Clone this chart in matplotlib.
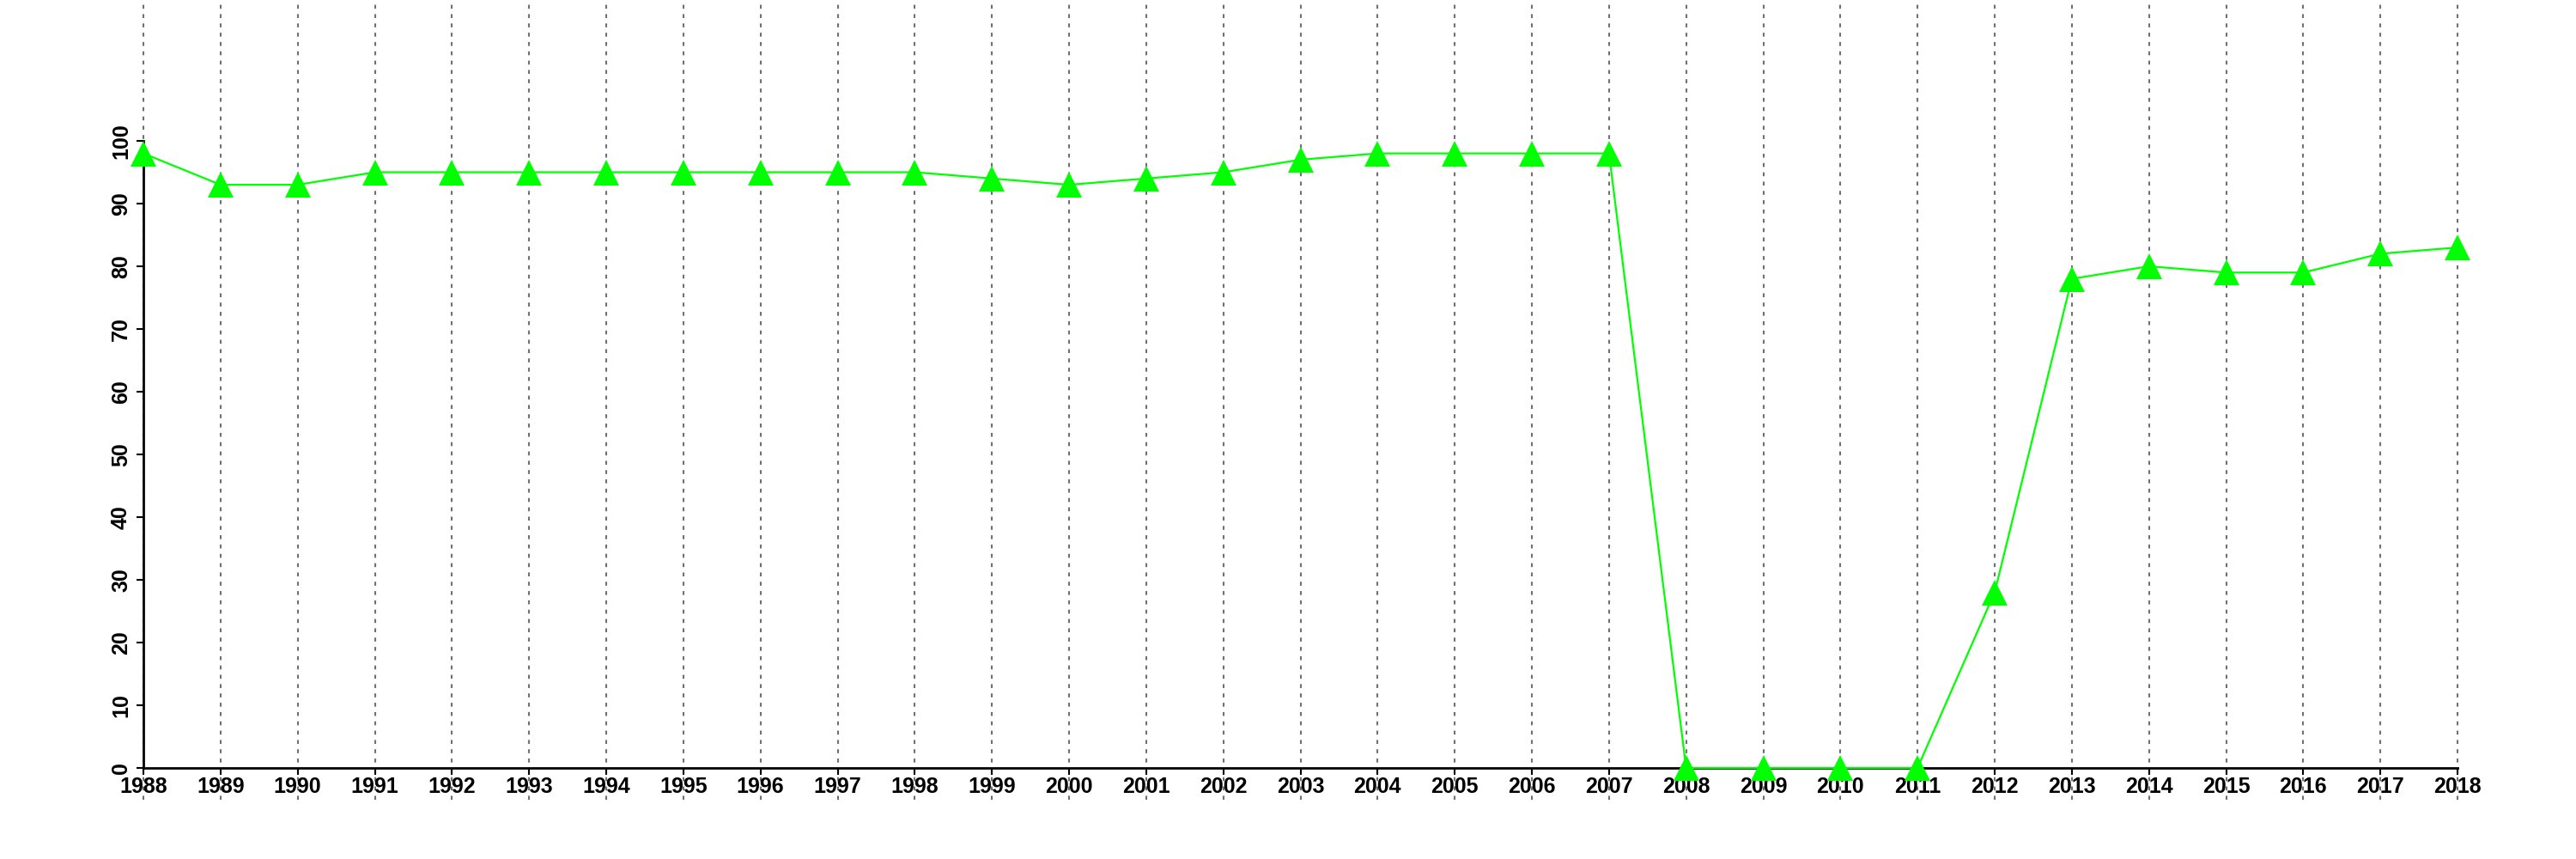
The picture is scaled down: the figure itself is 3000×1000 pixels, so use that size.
import numpy as np
import matplotlib.pyplot as plt

plt.rcParams['font.family'] = ['Liberation Sans', 'DejaVu Sans']

years = list(range(1988, 2019))
values = [98, 93, 93, 95, 95, 95, 95, 95, 95, 95, 95, 94, 93, 94, 95, 97,
          98, 98, 98, 98, 0, 0, 0, 0, 28, 78, 80, 79, 79, 82, 83]
y_ticks = list(range(0, 101, 10))

fig = plt.figure(figsize=(30, 10), dpi=100)
# axes box: x 1988 -> 167px, 2018 -> 2862px; y 0 -> 894px, 100 -> 164px
ax = fig.add_axes([167 / 3000, 1 - 894 / 1000, (2862 - 167) / 3000, (894 - 164) / 1000])

# dotted vertical guides running past the axes box
for yr in years:
    ax.axvline(yr, ymin=-0.05, ymax=1.23, color='#707070', lw=1.5,
               ls=(0, (2.2, 3.0)), clip_on=False, zorder=1)

ax.plot(years, values, color='#00ff00', lw=1.6, marker='^', markersize=21,
        markeredgewidth=0, clip_on=False, zorder=3)

ax.set_xlim(years[0], years[-1])
ax.set_ylim(0, 100)
ax.set_xticks(years)
ax.set_xticklabels([str(y) for y in years])
ax.set_yticks(y_ticks)
ax.set_yticklabels([str(v) for v in y_ticks], rotation=90, va='center')

for side in ['top', 'right']:
    ax.spines[side].set_visible(False)
ax.spines['left'].set_linewidth(2)
ax.spines['bottom'].set_linewidth(2)
ax.patch.set_visible(False)

ax.tick_params(axis='both', length=6, width=1.5, labelsize=18)
ax.tick_params(axis='x', pad=1)
ax.tick_params(axis='y', pad=4)
for lab in ax.get_xticklabels() + ax.get_yticklabels():
    lab.set_fontweight('bold')

fig.savefig('out.png', dpi=100)
